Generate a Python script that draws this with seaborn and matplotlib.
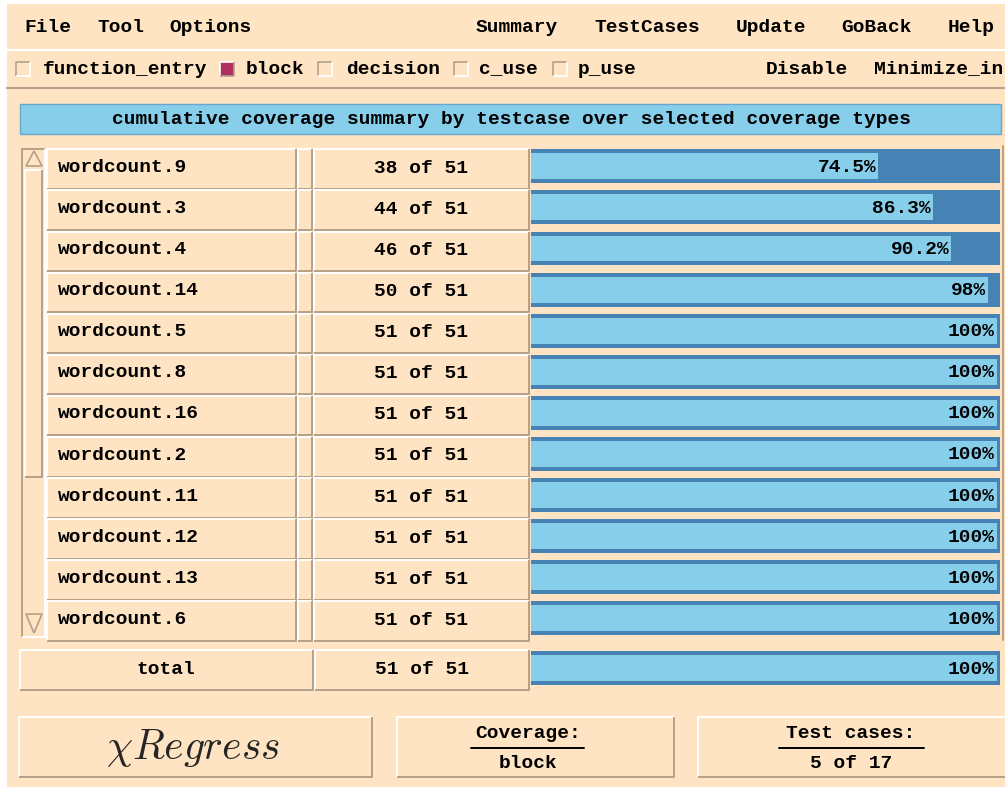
import matplotlib
matplotlib.use("Agg")
import matplotlib.pyplot as plt
import seaborn as sns
import pandas as pd
from matplotlib.patches import Rectangle, Polygon

# data
testcases = ["wordcount.9", "wordcount.3", "wordcount.4", "wordcount.14",
             "wordcount.5", "wordcount.8", "wordcount.16", "wordcount.2",
             "wordcount.11", "wordcount.12", "wordcount.13", "wordcount.6"]
covered = [38, 44, 46, 50, 51, 51, 51, 51, 51, 51, 51, 51]
total_blocks = 51
total_covered = 51
menu_left = ["File", "Tool", "Options"]
menu_right = ["Summary", "TestCases", "Update", "GoBack", "Help"]
coverage_types = ["function_entry", "block", "decision", "c_use", "p_use"]
selected_types = ["block"]
actions = ["Disable", "Minimize_in"]
title = "cumulative coverage summary by testcase over selected coverage types"
coverage_label = "block"
cases_shown = 5
cases_all = 17

PEACH = "#ffe4c4"
SKY = "#87ceeb"
STEEL = "#4682b4"
SHADOW = "#b4a08a"
HILITE = "white"
W, H = 1005, 787

sns.set_theme(style="white")
plt.rcParams["font.family"] = ["Liberation Mono", "DejaVu Sans"]
plt.rcParams["mathtext.fontset"] = "cm"
FONT = dict(family=["Liberation Mono", "DejaVu Sans"], weight="bold", size=14, color="black")


def pct_label(p):
    return f"{p:.1f}".rstrip("0").rstrip(".") + "%"


fig = plt.figure(figsize=(W / 100, H / 100), dpi=100)
fig.patch.set_facecolor("white")
bg = fig.add_axes([0, 0, 1, 1])
bg.set_xlim(0, W)
bg.set_ylim(H, 0)
bg.axis("off")
bg.add_patch(Rectangle((7, 4), W - 7, H - 4, fc=PEACH, ec="none"))


def bevel(x0, y0, x1, y1, raised=True, fc=None, lw=1.4):
    if fc is not None:
        bg.add_patch(Rectangle((x0, y0), x1 - x0, y1 - y0, fc=fc, ec="none"))
    top, bot = (HILITE, SHADOW) if raised else (SHADOW, HILITE)
    bg.plot([x0, x0, x1], [y1, y0, y0], color=top, lw=lw, solid_capstyle="butt")
    bg.plot([x0, x1, x1], [y1, y1, y0], color=bot, lw=lw, solid_capstyle="butt")


# menu bar
for label, x in zip(menu_left, [24, 97, 169]):
    bg.text(x, 27, label, ha="left", va="center", **FONT)
for label, x in zip(menu_right, [476, 594, 736, 841, 948]):
    bg.text(x, 27, label, ha="left", va="center", **FONT)
bg.plot([7, W], [49.5, 49.5], color=HILITE, lw=1.5)

# coverage type checkboxes
for label, bx, tx in zip(coverage_types, [16, 220, 318, 454, 553], [43, 246, 346, 479, 578]):
    on = label in selected_types
    bevel(bx, 62, bx + 14, 76, raised=on, fc="#b03060" if on else PEACH, lw=1.2)
    bg.text(tx, 69, label, ha="left", va="center", **FONT)
for label, x in zip(actions, [766, 874]):
    bg.text(x, 69, label, ha="left", va="center", **FONT)
bg.plot([7, W], [88, 88], color=SHADOW, lw=1.5)

# title bar
bg.add_patch(Rectangle((20, 104), 981, 30, fc=SKY, ec="#6ca6cd", lw=1))
bg.text(512, 119, title, ha="center", va="center", **FONT)

# table cells
pitch = 41.1
for i, (name, c) in enumerate(zip(testcases, covered)):
    t = 149.3 + pitch * i
    bevel(47, t, 296, t + 39.5, fc=PEACH)
    bevel(298, t, 312, t + 39.5, fc=PEACH)
    bevel(314, t, 529, t + 39.5, fc=PEACH)
    bg.text(58, t + 18, name, ha="left", va="center", **FONT)
    bg.text(421, t + 19, f"{c} of {total_blocks}", ha="center", va="center", **FONT)
bg.plot([1003, 1003], [146, 640], color=SHADOW, lw=1.4)

# scrollbar
bevel(22, 149, 45, 637, raised=False)
bg.add_patch(Polygon([(26, 166), (34, 151), (42, 166)], closed=True, fc=PEACH, ec=SHADOW, lw=1.2))
bevel(25, 170, 42, 477)
bg.add_patch(Polygon([(26, 614), (34, 633), (42, 614)], closed=True, fc=PEACH, ec=SHADOW, lw=1.2))

# total row
bevel(20, 650, 313, 690, fc=PEACH)
bevel(315, 650, 529, 690, fc=PEACH)
bg.text(166, 669, "total", ha="center", va="center", **FONT)
bg.text(422, 669, f"{total_covered} of {total_blocks}", ha="center", va="center", **FONT)

# coverage bars
full = 100 * (1000 - 531) / (997 - 531)
df = pd.DataFrame({"testcase": testcases, "covered": covered})
df["pct"] = df["covered"] / total_blocks * 100
df["full"] = full

top_y = 149.3 + 17 - pitch / 2
ax = fig.add_axes([531 / W, 1 - (top_y + pitch * len(df)) / H, (1000 - 531) / W, pitch * len(df) / H])
sns.barplot(data=df, x="full", y="testcase", orient="h", color=STEEL, width=0.826,
            saturation=1, errorbar=None, linewidth=0, ax=ax)
sns.barplot(data=df, x="pct", y="testcase", orient="h", color=SKY, width=0.632,
            saturation=1, errorbar=None, linewidth=0, ax=ax)
for i, p in enumerate(df["pct"]):
    ax.annotate(pct_label(p), xy=(p, i), xytext=(-2, -1), textcoords="offset pixels",
                ha="right", va="center", **FONT)
ax.set_xlim(0, full)
ax.set_ylim(len(df) - 0.5, -0.5)
ax.axis("off")

tot = pd.DataFrame({"testcase": ["total"], "pct": [total_covered / total_blocks * 100], "full": [full]})
ax2 = fig.add_axes([531 / W, 1 - (668 + pitch / 2) / H, (1000 - 531) / W, pitch / H])
sns.barplot(data=tot, x="full", y="testcase", orient="h", color=STEEL, width=0.826,
            saturation=1, errorbar=None, linewidth=0, ax=ax2)
sns.barplot(data=tot, x="pct", y="testcase", orient="h", color=SKY, width=0.632,
            saturation=1, errorbar=None, linewidth=0, ax=ax2)
ax2.annotate(pct_label(tot["pct"][0]), xy=(tot["pct"][0], 0), xytext=(-2, -1),
             textcoords="offset pixels", ha="right", va="center", **FONT)
ax2.set_xlim(0, full)
ax2.set_ylim(0.5, -0.5)
ax2.axis("off")

# bottom status boxes
bevel(19, 717, 372, 777, fc=PEACH)
bg.text(193, 748, r"$\chi Regress$", ha="center", va="center", fontsize=30)
bevel(397, 717, 674, 777, fc=PEACH)
bg.text(528, 733, "Coverage:", ha="center", va="center", **FONT)
bg.plot([471, 584], [747.5, 747.5], color="black", lw=1.4)
bg.text(528, 763, coverage_label, ha="center", va="center", **FONT)
bevel(698, 717, 1010, 777, fc=PEACH)
bg.text(851, 733, "Test cases:", ha="center", va="center", **FONT)
bg.plot([779, 924], [747.5, 747.5], color="black", lw=1.4)
bg.text(851, 763, f"{cases_shown} of {cases_all}", ha="center", va="center", **FONT)

fig.savefig("out.png", dpi=100)
plt.close(fig)
